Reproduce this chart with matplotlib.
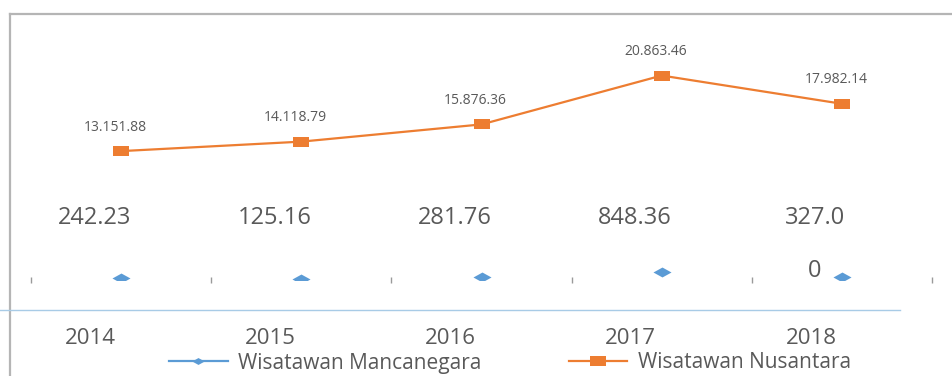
import matplotlib.pyplot as plt
from matplotlib.lines import Line2D

plt.rcParams['font.family'] = ['Open Sans', 'DejaVu Sans']

# data
years = ['2014', '2015', '2016', '2017', '2018']
nusantara = [13151.88, 14118.79, 15876.36, 20863.46, 17982.14]
nusantara_labels = ['13.151.88', '14.118.79', '15.876.36', '20.863.46', '17.982.14']
mancanegara = [242.23, 125.16, 281.76, 848.36, 327.0]
mancanegara_labels = ['242.23', '125.16', '281.76', '848.36', '327.0\n0']

orange = '#ED7D31'
blue = '#5B9BD5'
text_col = '#595959'

W, H = 953, 376
fig = plt.figure(figsize=(W / 100, H / 100), dpi=100)
ax = fig.add_axes([31 / W, (H - 280) / H, (932 - 31) / W, 245 / H])

x = list(range(len(years)))

# diamond and wide-square markers
diamond = [(-1, 0), (0, 0.55), (1, 0), (0, -0.55), (-1, 0)]
rect = [(-1, -0.62), (1, -0.62), (1, 0.62), (-1, 0.62), (-1, -0.62)]

ax.plot(x, nusantara, color=orange, lw=1.6, marker=rect, markersize=11.5,
        markeredgewidth=0, zorder=3)
ax.plot(x, mancanegara, linestyle='none', color=blue, marker=diamond,
        markersize=13, markeredgewidth=0, zorder=3)

for i, (v, lab) in enumerate(zip(nusantara, nusantara_labels)):
    ax.annotate(lab, xy=(i, v), xytext=(-6, 24), textcoords='offset pixels',
                ha='center', va='center', fontsize=10, color=text_col)

for i, lab in enumerate(mancanegara_labels):
    ax.annotate(lab, xy=(i, 0), xytext=(-27, 74), textcoords='offset pixels',
                ha='center', va='top', fontsize=17, color=text_col,
                linespacing=2.6)

for i, yr in enumerate(years):
    ax.annotate(yr, xy=(i, 0), xytext=(-31, -58), textcoords='offset pixels',
                ha='center', va='center', fontsize=16, color=text_col)

ax.set_xlim(-0.5, 4.5)
ax.set_ylim(0, 25000)
ax.set_xticks([i - 0.5 for i in range(len(years) + 1)])
ax.set_xticklabels([])
ax.set_yticks([])
ax.tick_params(axis='x', direction='inout', length=5, width=1, color='#9a9a9a')
for s in ax.spines.values():
    s.set_visible(False)
ax.patch.set_alpha(0)

# outer frame and the light blue rule under the points
fig.add_artist(Line2D([10 / W, 10 / W], [0, (H - 14) / H], color='#b5b5b5', lw=1.6))
fig.add_artist(Line2D([10 / W, 1], [(H - 14) / H, (H - 14) / H], color='#b5b5b5', lw=1.6))
fig.add_artist(Line2D([0, 900 / W], [(H - 310) / H, (H - 310) / H], color='#a8cbe6', lw=1))

handles = [
    Line2D([], [], color=blue, lw=1.6, marker=diamond, markersize=9, markeredgewidth=0),
    Line2D([], [], color=orange, lw=1.6, marker=rect, markersize=11.5, markeredgewidth=0),
]
fig.legend(handles, ['Wisatawan Mancanegara', 'Wisatawan Nusantara'],
           loc='center', bbox_to_anchor=(510 / W, (H - 363) / H), ncol=2,
           frameon=False, fontsize=15, handlelength=2.8, handletextpad=0.5,
           columnspacing=4.2, labelcolor=text_col, borderpad=0)

fig.savefig('out.png', dpi=100)
